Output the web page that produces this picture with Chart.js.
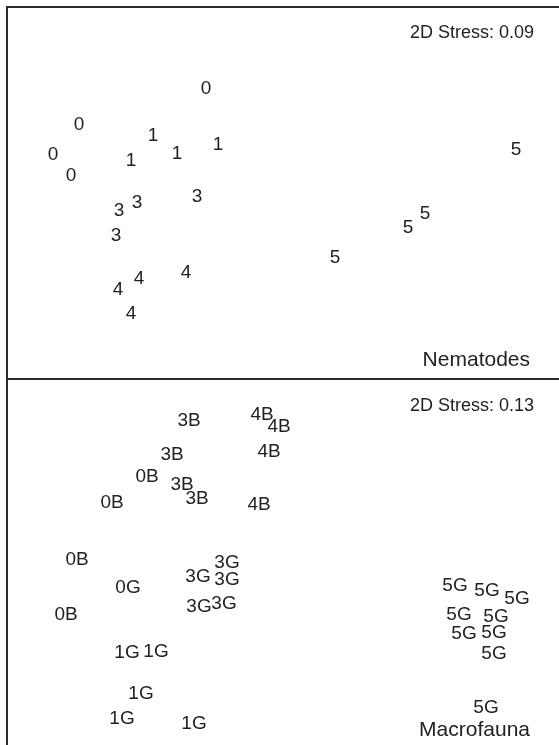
<!DOCTYPE html>
<html><head><meta charset="utf-8">
<script src="https://cdn.jsdelivr.net/npm/chart.js@4.4.0/dist/chart.umd.min.js"></script>
<style>
html,body{margin:0;padding:0;background:#fff;}
#wrap{position:relative;width:559px;height:745px;overflow:hidden;background:#fff;}
canvas{position:absolute;left:0;}
</style></head><body>
<div id="wrap">
<canvas id="cTop" width="559" height="380" style="top:0px"></canvas>
<canvas id="cBot" width="559" height="365" style="top:380px"></canvas>
</div>
<script>
// ---- Nematodes MDS ordination (arbitrary MDS units) ----
const nemLabels = ['0','0','0','0','1','1','1','1','3','3','3','3','4','4','4','4','5','5','5','5'];
const nemX = [199, 72, 46, 64, 146, 124, 170, 211, 112, 130, 190, 109, 132, 111, 179, 124, 509, 418, 401, 328];
const nemY = [292, 256, 226, 205, 245, 220, 227, 236, 170, 178, 184, 145, 102, 91, 108, 67, 231, 167, 153, 123];

// ---- Macrofauna MDS ordination ----
const macLabels = ['0B','0B','0B','0B','0G',
  '1G','1G','1G','1G','1G',
  '3B','3B','3B','3B',
  '3G','3G','3G','3G','3G',
  '4B','4B','4B','4B',
  '5G','5G','5G','5G','5G','5G','5G','5G','5G'];
const macX = [140, 105, 70, 59, 121,
  120, 149, 134, 115, 187,
  182, 165, 175, 190,
  220, 191, 220, 192, 217,
  255, 272, 262, 252,
  448, 480, 510, 452, 489, 457, 487, 487, 479];
const macY = [270, 244, 187, 132, 159,
  94, 95, 53, 28, 23,
  326, 292, 262, 248,
  184, 170, 167, 140, 143,
  332, 320, 295, 242,
  161, 156, 148, 132, 130, 113, 114, 93, 39];

const stressTexts = ['2D Stress: 0.09', '2D Stress: 0.13'];
const panelTitles = ['Nematodes', 'Macrofauna'];

const FONT = '"Liberation Sans", Arial, Helvetica, sans-serif';
const INK = '#222';
const LABEL_SIZE = 19, STRESS_SIZE = 18, TITLE_SIZE = 21;

function pts(xs, ys) { return xs.map((x, i) => ({x: x, y: ys[i]})); }

function makePlugin(labels, stress, title, opts) {
  return {
    id: 'mdsText',
    afterDatasetsDraw(chart) {
      const ctx = chart.ctx;
      ctx.save();
      // frame
      ctx.strokeStyle = '#2a2a2a';
      ctx.lineWidth = 2;
      ctx.beginPath();
      ctx.moveTo(7, opts.frameTop ? 7 : 0);
      ctx.lineTo(7, chart.height);
      if (opts.frameTop) { ctx.moveTo(6, 7); ctx.lineTo(chart.width, 7); }
      if (opts.frameBottom) { ctx.moveTo(6, chart.height - 1); ctx.lineTo(chart.width, chart.height - 1); }
      ctx.stroke();
      // labels at point positions
      ctx.fillStyle = INK;
      ctx.textAlign = 'center';
      ctx.textBaseline = 'alphabetic';
      ctx.font = LABEL_SIZE + 'px ' + FONT;
      const meta = chart.getDatasetMeta(0);
      meta.data.forEach((el, i) => {
        ctx.fillText(labels[i], el.x, el.y + 0.358 * LABEL_SIZE);
      });
      // stress
      ctx.textAlign = 'right';
      ctx.font = STRESS_SIZE + 'px ' + FONT;
      ctx.fillText(stress, 534, opts.stressY + 0.358 * STRESS_SIZE);
      // panel title
      ctx.font = TITLE_SIZE + 'px ' + FONT;
      ctx.fillText(title, 530, opts.titleY + 0.358 * TITLE_SIZE);
      ctx.restore();
    }
  };
}

function makeChart(id, xs, ys, labels, stress, title, pad, ymax, opts) {
  return new Chart(document.getElementById(id), {
    type: 'scatter',
    data: { datasets: [{ data: pts(xs, ys), pointRadius: 0, pointHoverRadius: 0, showLine: false }] },
    options: {
      responsive: false, animation: false, devicePixelRatio: 1,
      layout: { padding: pad },
      plugins: { legend: { display: false }, tooltip: { enabled: false }, title: { display: false } },
      events: [],
      scales: {
        x: { type: 'linear', min: 0, max: 552, display: false },
        y: { type: 'linear', min: 0, max: ymax, display: false }
      }
    },
    plugins: [makePlugin(labels, stress, title, opts)]
  });
}

makeChart('cTop', nemX, nemY, nemLabels, stressTexts[0], panelTitles[0],
  { left: 7, top: 7, right: 0, bottom: 1 }, 372,
  { frameTop: true, frameBottom: true, stressY: 32, titleY: 358 });
makeChart('cBot', macX, macY, macLabels, stressTexts[1], panelTitles[1],
  { left: 7, top: 0, right: 0, bottom: 0 }, 365,
  { frameTop: false, frameBottom: false, stressY: 25, titleY: 348 });
</script>
</body></html>
